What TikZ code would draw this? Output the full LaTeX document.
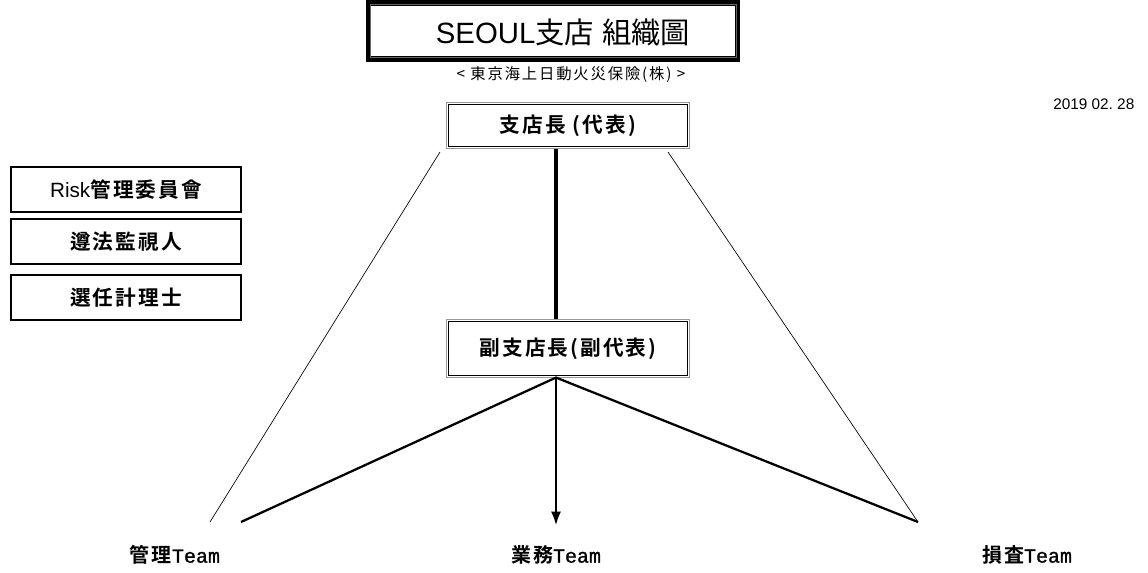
\documentclass[tikz,border=0pt]{standalone}
\usepackage{fontspec}
\setmainfont{Liberation Sans}
\newfontfamily\cjk{Noto Sans CJK KR}[LetterSpace=12]
\newfontfamily\cjkt{Noto Sans CJK KR}
\newfontfamily\cjkb{Noto Sans CJK KR Bold}[LetterSpace=10]
\newfontfamily\teamfont{Liberation Mono}[FakeBold=1.2]
\usetikzlibrary{arrows,arrows.meta}

\begin{document}
\begin{tikzpicture}[x=0.75pt,y=-0.75pt,
    sidebox/.style={draw,line width=1.5pt,minimum width=173pt,minimum height=34pt,inner sep=0pt,font=\cjkb\fontsize{15.5}{17}\selectfont},
    chefbox/.style={draw=black!40,line width=0.6pt,minimum width=182pt,inner sep=0pt,font=\cjkb\fontsize{15.5}{17}\selectfont},
    equipe/.style={font=\fontsize{15}{17}\selectfont},
    fin/.style={line width=0.5pt},
    epais/.style={line width=1.7pt}]
\useasboundingbox (0,0) rectangle (1148,573);

% titre
\node[draw,line width=4pt,minimum width=277pt,minimum height=42pt,inner sep=0pt] (titre) at (553,31) {};
\node[font=\fontsize{22}{26}\selectfont] (nom) at (563,32) {SEOUL{\cjkt 支店} {\cjkt 組織圖}};
\draw[black!60,line width=0.6pt] ([shift={(3.2pt,-3.2pt)}]titre.north west) rectangle ([shift={(-3.2pt,3.2pt)}]titre.south east);
\node[font=\cjk\fontsize{11.5}{13}\selectfont] (societe) at (571,75) {< 東京海上日動火災保險(株) >};
\node[anchor=east,font=\fontsize{11.5}{13}\selectfont] (date) at (1139,104) {2019 02.\ 28};

% direction
\node[chefbox,minimum height=34pt] (chef) at (568,125.5) {支店長 (代表)};
\node[chefbox,minimum height=43pt] (adjoint) at (568,348.5) {副支店長(副代表)};
\foreach \n in {chef,adjoint}
  \draw[line width=0.9pt] ([shift={(1.8pt,-1.8pt)}]\n.north west) rectangle ([shift={(-1.8pt,1.8pt)}]\n.south east);

% comites
\node[sidebox] (risk) at (126,189.5) {{\rmfamily Risk}管理委員會};
\node[sidebox] (junpo) at (126,241.5) {遵法監視人};
\node[sidebox] (actuaire) at (126,297.5) {選任計理士};

% equipes
\node[equipe] (kanri) at (175,555) {{\cjkb 管理}{\teamfont Team}};
\node[equipe] (gyomu) at (556,555) {{\cjkb 業務}{\teamfont Team}};
\node[equipe] (sonsa) at (1027,555) {{\cjkb 損査}{\teamfont Team}};

\coordinate (tige) at (556,0);
\coordinate (fourche) at (adjoint.south -| tige);
\coordinate (g1) at (440,152);
\coordinate (g2) at (210,522);
\coordinate (k) at (241,522);
\coordinate (s) at (918,522);
\coordinate (d1) at (668,152);

\draw[line width=2.4pt] (chef.south -| tige) -- (adjoint.north -| tige);
\draw[fin] (g1) -- (g2);
\draw[fin] (d1) -- (s);
\draw[epais] (k) -- (fourche) -- (s);
\draw[line width=1.2pt,-{Latex[length=10pt,width=7.5pt]}] (fourche) -- (gyomu.north |- 0,525);

\end{tikzpicture}
\end{document}
